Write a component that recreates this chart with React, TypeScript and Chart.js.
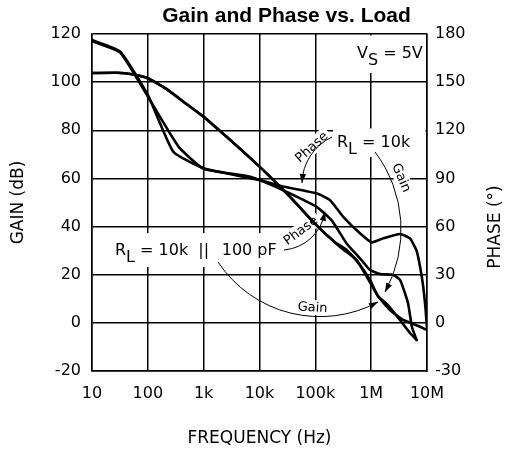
import React, { useEffect, useRef } from 'react';
import { Chart, registerables } from 'chart.js';

Chart.register(...registerables);

const FONT = '"DejaVu Sans", sans-serif';

const FREQ_TICKS = [10, 100, 1000, 10000, 100000, 1000000, 10000000];
const FREQ_TICK_LABELS = ['10', '100', '1k', '10k', '100k', '1M', '10M'];
const GAIN_TICKS = [-20, 0, 20, 40, 60, 80, 100, 120];
const GAIN_TICK_LABELS = ['-20', '0', '20', '40', '60', '80', '100', '120'];
const PHASE_TICKS = [-30, 0, 30, 60, 90, 120, 150, 180];
const PHASE_TICK_LABELS = ['-30', '0', '30', '60', '90', '120', '150', '180'];

// Gain, RL = 10k
const GAIN_10K_FREQ = [10, 28, 52, 100, 230, 500, 1000, 10000, 40000, 100000, 277000, 551000, 832000, 1340000, 2170000, 3760000, 7500000, 10000000];
const GAIN_10K_DB = [103.8, 103.9, 103.3, 101.6, 96.7, 90.8, 85.6, 64.9, 51.0, 41.0, 31.5, 26.1, 19.2, 10.9, 5.3, 1.2, -1.6, -3.0];

// Gain, RL = 10k || 100pF
const GAIN_100PF_FREQ = [10, 28, 52, 100, 230, 500, 1000, 10000, 40000, 100000, 225000, 364000, 631000, 953000, 1320000, 1920000, 3280000, 4960000, 6530000];
const GAIN_100PF_DB = [103.8, 103.9, 103.3, 101.6, 96.7, 90.8, 85.6, 64.9, 51.0, 41.0, 33.5, 30.3, 24.0, 17.8, 11.2, 7.8, 1.2, -4.2, -7.1];

// Phase, RL = 10k
const PHASE_10K_FREQ = [10, 32, 100, 286, 1000, 10000, 26000, 105000, 182000, 316000, 630000, 1020000, 1650000, 3280000, 4960000, 6500000, 7600000, 8600000, 9400000, 10000000];
const PHASE_10K_DEG = [176.3, 169, 142, 106.6, 96.3, 89, 85, 80.7, 76.5, 66.1, 55.8, 50.2, 52.7, 55.4, 52.6, 45, 34, 22, 9, -3];

// Phase, RL = 10k || 100pF
const PHASE_100PF_FREQ = [10, 32, 100, 355, 1000, 6800, 26000, 105000, 195000, 363000, 631000, 955000, 1450000, 2450000, 3300000, 4570000, 5370000, 6530000];
const PHASE_100PF_DEG = [175.6, 168.5, 141, 109.8, 96, 91, 82.8, 72.3, 64, 49.5, 40.2, 32.9, 30.4, 29.9, 26.7, 12.3, -2.6, -10.7];

function pairs(xs: number[], ys: number[]) {
  return xs.map((x, i) => ({ x, y: ys[i] }));
}

function drawArc3(ctx: CanvasRenderingContext2D, A: number[], B: number[], C: number[]) {
  const [x1, y1] = A, [x2, y2] = B, [x3, y3] = C;
  const d = 2 * (x1 * (y2 - y3) + x2 * (y3 - y1) + x3 * (y1 - y2));
  const s1 = x1 * x1 + y1 * y1, s2 = x2 * x2 + y2 * y2, s3 = x3 * x3 + y3 * y3;
  const ux = (s1 * (y2 - y3) + s2 * (y3 - y1) + s3 * (y1 - y2)) / d;
  const uy = (s1 * (x3 - x2) + s2 * (x1 - x3) + s3 * (x2 - x1)) / d;
  const r = Math.hypot(x1 - ux, y1 - uy);
  const a0 = Math.atan2(y1 - uy, x1 - ux);
  const a1 = Math.atan2(y2 - uy, x2 - ux);
  const a2 = Math.atan2(y3 - uy, x3 - ux);
  const TAU = Math.PI * 2;
  const norm = (a: number) => ((a % TAU) + TAU) % TAU;
  const cw = norm(a1 - a0) < norm(a2 - a0);
  ctx.beginPath();
  ctx.arc(ux, uy, r, a0, a2, !cw);
  ctx.stroke();
  const back = 8 / r;
  const ab = cw ? a2 - back : a2 + back;
  const bx = ux + r * Math.cos(ab), by = uy + r * Math.sin(ab);
  const dir = Math.atan2(y3 - by, x3 - bx);
  const L = 9, W = 3.2;
  const dx = Math.cos(dir), dy = Math.sin(dir);
  ctx.beginPath();
  ctx.moveTo(x3, y3);
  ctx.lineTo(x3 - L * dx - W * dy, y3 - L * dy + W * dx);
  ctx.lineTo(x3 - L * dx + W * dy, y3 - L * dy - W * dx);
  ctx.closePath();
  ctx.fill();
}

const annotationPlugin = {
  id: 'annotations',
  beforeDatasetsDraw(chart: any) {
    const { ctx, chartArea: ca } = chart;
    const sx = (ca.right - ca.left) / 335;
    const sy = (ca.bottom - ca.top) / 337;
    const P = (x: number, y: number) => [ca.left + (x - 92) * sx, ca.top + (y - 34) * sy];
    const xKHz = chart.scales.x.getPixelForValue(1000);

    const smallLabels = [
      { text: 'Phase', at: P(312, 147.5), deg: -42 },
      { text: 'Gain', at: P(401, 178), deg: 67 },
      { text: 'Phase', at: P(301, 231), deg: -37 },
      { text: 'Gain', at: P(312.5, 308), deg: 3 },
    ];

    ctx.save();
    // white boxes that break the grid under labels
    ctx.fillStyle = '#fff';
    const box = (a: number[], b: number[]) => ctx.fillRect(a[0], a[1], b[0] - a[0], b[1] - a[1]);
    box(P(350, 35.5), P(425.5, 73));
    box(P(333, 128.5), P(425.5, 157));
    box(P(110, 233), P(282, 267));
    ctx.font = `13px ${FONT}`;
    for (const l of smallLabels) {
      const w = ctx.measureText(l.text).width;
      ctx.save();
      ctx.translate(l.at[0], l.at[1]);
      ctx.rotate((l.deg * Math.PI) / 180);
      ctx.fillRect(-w / 2 - 3, -8, w + 6, 15);
      ctx.restore();
    }

    // arcs with arrows
    ctx.strokeStyle = '#000';
    ctx.fillStyle = '#000';
    ctx.lineWidth = 1;
    drawArc3(ctx, P(332, 137), P(309, 158), P(302, 183));
    drawArc3(ctx, P(375, 152), P(401, 225), P(385, 292));
    drawArc3(ctx, P(218, 262), P(300, 315), P(378, 302));
    drawArc3(ctx, P(284, 250), P(316.7, 231.7), P(325, 211.7));

    // small rotated labels
    ctx.textAlign = 'center';
    ctx.textBaseline = 'middle';
    ctx.font = `13px ${FONT}`;
    for (const l of smallLabels) {
      ctx.save();
      ctx.translate(l.at[0], l.at[1]);
      ctx.rotate((l.deg * Math.PI) / 180);
      ctx.fillText(l.text, 0, 0);
      ctx.restore();
    }

    // big labels with subscripts
    ctx.textAlign = 'left';
    ctx.textBaseline = 'alphabetic';
    ctx.font = `16px ${FONT}`;
    const sub = (start: number[], main: string, s: string, rest: string) => {
      let x = start[0];
      const y = start[1];
      ctx.fillText(main, x, y);
      x += ctx.measureText(main).width;
      ctx.fillText(s, x, y + 7);
      x += ctx.measureText(s).width;
      ctx.fillText(rest, x, y);
      return x + ctx.measureText(rest).width;
    };
    sub(P(357, 58), 'V', 'S', ' = 5V');
    sub(P(337, 146.7), 'R', 'L', ' = 10k');
    const rl = P(115, 255);
    sub(rl, 'R', 'L', ' = 10k');
    ctx.textAlign = 'center';
    ctx.fillText('||', xKHz, rl[1]);
    ctx.textAlign = 'left';
    ctx.fillText('100 pF', P(221.7, 0)[0], rl[1]);

    // main title
    ctx.textAlign = 'center';
    ctx.font = `bold 21px "Liberation Sans", Arial, sans-serif`;
    const t = P(286.5, 22);
    ctx.fillText('Gain and Phase vs. Load', t[0], t[1]);

    // right axis title (reads bottom-to-top)
    ctx.font = `17px ${FONT}`;
    ctx.textBaseline = 'middle';
    const rt = P(496, 227);
    ctx.save();
    ctx.translate(rt[0], rt[1]);
    ctx.rotate(-Math.PI / 2);
    ctx.fillText('PHASE (°)', 0, 0);
    ctx.restore();
    ctx.restore();
  },
};

export default function App() {
  const ref = useRef<HTMLCanvasElement>(null);
  useEffect(() => {
    document.body.style.margin = '0';
    const lineStyle = {
      borderColor: '#000',
      backgroundColor: '#000',
      borderWidth: 2.6,
      pointRadius: 0,
      fill: false,
      tension: 0.15,
      borderJoinStyle: 'round' as const,
      borderCapStyle: 'round' as const,
    };
    const tickFont = { family: FONT, size: 16 };
    const grid = { color: '#000', lineWidth: 1.5, drawTicks: false };
    const border = { color: '#000', width: 1.5 };
    const chart = new Chart(ref.current!, {
      type: 'line',
      data: {
        datasets: [
          { label: 'Gain RL=10k', data: pairs(GAIN_10K_FREQ, GAIN_10K_DB), yAxisID: 'yGain', ...lineStyle },
          { label: 'Gain RL=10k||100pF', data: pairs(GAIN_100PF_FREQ, GAIN_100PF_DB), yAxisID: 'yGain', ...lineStyle },
          { label: 'Phase RL=10k', data: pairs(PHASE_10K_FREQ, PHASE_10K_DEG), yAxisID: 'yPhase', ...lineStyle },
          { label: 'Phase RL=10k||100pF', data: pairs(PHASE_100PF_FREQ, PHASE_100PF_DEG), yAxisID: 'yPhase', ...lineStyle },
        ],
      },
      options: {
        responsive: false,
        animation: false,
        devicePixelRatio: 1,
        layout: { padding: { top: 34, left: 0, right: 0, bottom: 0 } },
        plugins: { legend: { display: false }, tooltip: { enabled: false }, title: { display: false } },
        scales: {
          x: {
            type: 'logarithmic',
            min: 10,
            max: 10000000,
            afterBuildTicks: (s: any) => { s.ticks = FREQ_TICKS.map((v) => ({ value: v })); },
            afterFit: (s: any) => { s.height = 80; },
            ticks: {
              callback: (v: any) => FREQ_TICK_LABELS[FREQ_TICKS.indexOf(Number(v))] ?? '',
              font: tickFont, color: '#000', padding: 13, maxRotation: 0, autoSkip: false,
            },
            grid, border,
            title: { display: true, text: 'FREQUENCY (Hz)', color: '#000', font: { family: FONT, size: 17 }, padding: { top: 0, bottom: 2 } },
          },
          yGain: {
            type: 'linear', position: 'left', min: -20, max: 120,
            afterBuildTicks: (s: any) => { s.ticks = GAIN_TICKS.map((v) => ({ value: v })); },
            afterFit: (s: any) => { s.width = 92; },
            ticks: { callback: (v: any) => GAIN_TICK_LABELS[GAIN_TICKS.indexOf(Number(v))] ?? '', font: tickFont, color: '#000', padding: 11 },
            grid, border,
            title: { display: true, text: 'GAIN (dB)', color: '#000', font: { family: FONT, size: 17 }, padding: { top: 8, bottom: 0 } },
          },
          yPhase: {
            type: 'linear', position: 'right', min: -30, max: 180,
            afterBuildTicks: (s: any) => { s.ticks = PHASE_TICKS.map((v) => ({ value: v })); },
            afterFit: (s: any) => { s.width = 82; },
            ticks: { callback: (v: any) => PHASE_TICK_LABELS[PHASE_TICKS.indexOf(Number(v))] ?? '', font: tickFont, color: '#000', padding: 8 },
            grid: { display: false, drawTicks: false },
            border,
          },
        },
      } as any,
      plugins: [annotationPlugin],
    });
    return () => chart.destroy();
  }, []);
  return (
    <div style={{ width: 509, height: 451 }}>
      <canvas ref={ref} width={509} height={451} style={{ display: 'block' }} />
    </div>
  );
}
